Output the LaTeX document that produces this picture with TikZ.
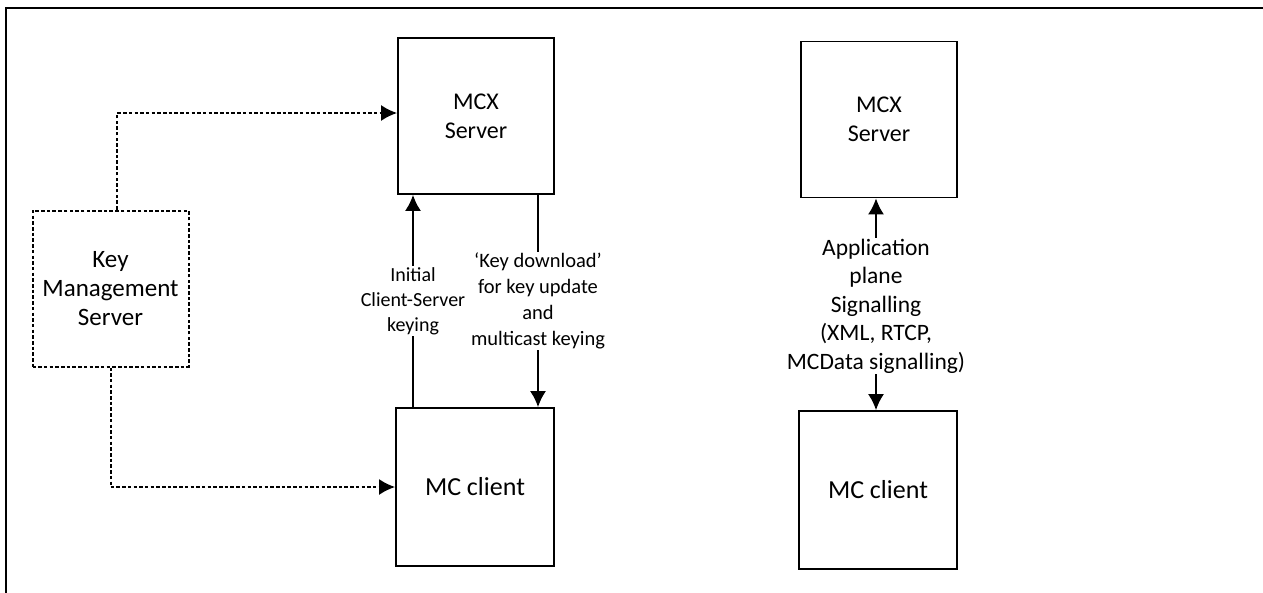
\documentclass[tikz,border=0pt]{standalone}
\usepackage{fontspec}
\setmainfont{Carlito}
\usetikzlibrary{arrows.meta}

\begin{document}
\begin{tikzpicture}[x=1pt, y=-1pt, >={Latex[length=16pt,width=16pt]},
        box/.style={draw, line width=1.8pt, minimum width=156pt, minimum height=156pt,
            inner sep=0pt, align=center, font=\fontsize{24}{29}\selectfont},
        keybox/.style={box, line width=2pt, dash pattern=on 3.5pt off 2.2pt},
        link/.style={line width=1.8pt},
        keylink/.style={link, line width=2pt, dash pattern=on 3.5pt off 2.2pt},
        tag/.style={fill=white, inner sep=1pt, align=center}]

    % Fixes the page to the size of the reference
    \useasboundingbox (0,0) rectangle (1263,592);

    % Draws the outer frame (only its top and left sides show)
    \draw[line width=2pt] (6,600) -- (6,8) -- (1270,8);

    % Draws the boxes of the left part
    \node[keybox, font=\fontsize{25}{29}\selectfont] (kms) at (110.5,288.5) {Key\\Management\\Server};
    \node[box] (mcxL) at (476,116) {MCX\\Server};
    \node[box, minimum width=158pt, minimum height=158pt, font=\fontsize{26}{30}\selectfont] (mcL) at (475,487) {MC client};

    % Draws the boxes of the right part
    \node[box] (mcxR) at (879,119.5) {MCX\\Server};
    \node[box, minimum width=158pt, minimum height=158pt, font=\fontsize{26}{30}\selectfont] (mcR) at (878,490) {MC client};

    % Draws the dotted key links from the key management server
    \draw[keylink,->] ([xshift=6.5pt]kms.north) |- ([yshift=3pt]mcxL.west);
    \draw[keylink,->] (kms.south) |- (mcL.west);

    % Draws the keying links between client and server
    \draw[link,->] ([xshift=-62pt]mcL.north) -- ([xshift=-62pt]mcL.north |- mcxL.south)
        node[midway, tag, font=\fontsize{20}{25}\selectfont] (initL) {Initial\\Client-Server\\keying};
    \draw[link,->] ([xshift=62pt]mcxL.south) -- ([xshift=62pt]mcxL.south |- mcL.north)
        node[midway, tag, font=\fontsize{20.5}{26}\selectfont] (dlL) {`Key download'\\for key update\\and\\multicast keying};

    % Draws the signalling link of the right part
    \draw[link,<->] ([xshift=-3pt]mcxR.south) -- ([xshift=-3pt]mcxR.south |- mcR.north)
        node[midway, tag, yshift=-2pt, font=\fontsize{23.5}{28.5}\selectfont] (sigR) {Application\\plane\\Signalling\\(XML, RTCP,\\MCData signalling)};

\end{tikzpicture}
\end{document}
